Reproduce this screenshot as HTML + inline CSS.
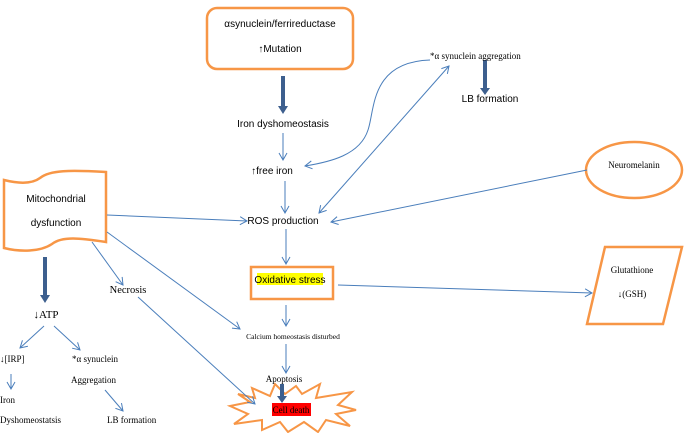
<!DOCTYPE html>
<html><head><meta charset="utf-8"><style>
html,body{margin:0;padding:0;background:#fff;}
svg{display:block}
.s{font-family:"Liberation Sans",sans-serif;font-size:10px;fill:#000}
.r{font-family:"Liberation Serif",serif;font-size:9px;fill:#000}
</style></head><body>
<svg width="685" height="433" viewBox="0 0 685 433" xmlns="http://www.w3.org/2000/svg">
<defs>
<marker id="a" markerWidth="10" markerHeight="10" refX="8" refY="5" orient="auto" markerUnits="userSpaceOnUse"><path d="M1,1 L8,5 L1,9" fill="none" stroke="#4a7ebb" stroke-width="1"/></marker>
<marker id="as" markerWidth="10" markerHeight="10" refX="2" refY="5" orient="auto" markerUnits="userSpaceOnUse"><path d="M9,1 L2,5 L9,9" fill="none" stroke="#4a7ebb" stroke-width="1"/></marker>
<marker id="t" markerWidth="12" markerHeight="10" refX="6" refY="4" orient="auto" markerUnits="userSpaceOnUse"><path d="M0,0 L6,4 L0,8 Z" fill="#3d5f8e" transform="rotate(0)"/></marker>
</defs>
<g fill="none" stroke="#f79646" stroke-width="2.5">
<rect x="207" y="8" width="146" height="61" rx="10"/>
<ellipse cx="634" cy="170" rx="48" ry="28"/>
<path d="M4,180 C20,184 32,184 40,178 C50,170 70,170 106,172 L106,242 C80,238 62,236 52,244 C40,252 20,252 4,248 Z"/>
<rect x="251" y="267" width="82" height="32"/>
<path d="M605,247 L682,247 L663,324 L587,324 Z"/>
<path d="M238,394 L255,398 L252,388 L270,396 L275,384 L285,394 L296,386 L302,394 L320,384 L316,398 L352,392 L338,405 L356,410 L336,414 L350,426 L326,420 L318,432 L304,422 L288,432 L280,422 L262,430 L262,420 L234,424 L248,414 L230,406 L250,402 Z" stroke-width="2"/>
</g>
<rect x="257" y="273" width="66" height="12" fill="#ffff00"/>
<rect x="272" y="403" width="39" height="13" fill="#ff0000"/>
<g stroke="#3d5f8e" stroke-width="4">
<line x1="283" y1="76" x2="283" y2="107"/>
<line x1="485" y1="60" x2="485" y2="88"/>
<line x1="45" y1="257" x2="45" y2="296"/>
<line x1="282" y1="384" x2="282" y2="396"/>
</g>
<g fill="#3d5f8e">
<path d="M278,106 L288,106 L283,114 Z"/>
<path d="M480,88 L490,88 L485,95 Z"/>
<path d="M40,295 L50,295 L45,303 Z"/>
<path d="M277,396 L287,396 L282,403 Z"/>
</g>
<g fill="none" stroke="#4a7ebb" stroke-width="1">
<line x1="283" y1="133" x2="283" y2="160" marker-end="url(#a)"/>
<line x1="285" y1="181" x2="285" y2="213" marker-end="url(#a)"/>
<line x1="286" y1="229" x2="286" y2="264" marker-end="url(#a)"/>
<path d="M430,60 C370,62 375,110 368,130 C360,155 330,162 305,166" marker-end="url(#a)"/>
<line x1="319" y1="213" x2="449" y2="66" marker-start="url(#as)" marker-end="url(#a)"/>
<line x1="587" y1="170" x2="331" y2="222" marker-end="url(#a)"/>
<line x1="107" y1="215" x2="247" y2="221" marker-end="url(#a)"/>
<line x1="107" y1="232" x2="240" y2="329" marker-end="url(#a)"/>
<line x1="92" y1="242" x2="123" y2="285" marker-end="url(#a)"/>
<line x1="138" y1="297" x2="255" y2="404" marker-end="url(#a)"/>
<line x1="338" y1="285" x2="592" y2="293" marker-end="url(#a)"/>
<line x1="286" y1="305" x2="286" y2="326" marker-end="url(#a)"/>
<line x1="286" y1="344" x2="286" y2="373" marker-end="url(#a)"/>
<line x1="44" y1="326" x2="20" y2="348" marker-end="url(#a)"/>
<line x1="54" y1="326" x2="80" y2="350" marker-end="url(#a)"/>
<line x1="11" y1="374" x2="11" y2="389" marker-end="url(#a)"/>
<line x1="105" y1="390" x2="123" y2="411" marker-end="url(#a)"/>
</g>
<text class="s" x="280" y="27" text-anchor="middle">αsynuclein/ferrireductase</text>
<text class="s" x="280" y="52" text-anchor="middle">↑Mutation</text>
<text class="s" x="283" y="127" text-anchor="middle">Iron dyshomeostasis</text>
<text class="s" x="272" y="174" text-anchor="middle">↑free iron</text>
<text class="s" x="283" y="224" text-anchor="middle">ROS production</text>
<text class="r" x="430" y="59">*α synuclein aggregation</text>
<text class="s" x="490" y="102" text-anchor="middle">LB formation</text>
<text class="r" x="634" y="168" text-anchor="middle">Neuromelanin</text>
<text class="s" x="56" y="202" text-anchor="middle">Mitochondrial</text>
<text class="s" x="56" y="226" text-anchor="middle">dysfunction</text>
<text class="r" x="128" y="293" text-anchor="middle" style="font-size:10.5px">Necrosis</text>
<text class="s" x="290" y="283" text-anchor="middle">Oxidative stress</text>
<text class="r" x="632" y="273" text-anchor="middle">Glutathione</text>
<text class="r" x="632" y="297" text-anchor="middle">↓(GSH)</text>
<text class="r" x="293" y="339" text-anchor="middle" style="font-size:7.5px">Calcium homeostasis disturbed</text>
<text class="r" x="284" y="382" text-anchor="middle">Apoptosis</text>
<text class="r" x="291" y="413" text-anchor="middle">Cell death</text>
<text class="r" x="46" y="318" text-anchor="middle" style="font-size:11px">↓ATP</text>
<text class="r" x="0" y="362">↓[IRP]</text>
<text class="r" x="0" y="403">Iron</text>
<text class="r" x="0" y="423">Dyshomeostatsis</text>
<text class="r" x="72" y="362">*α synuclein</text>
<text class="r" x="71" y="383">Aggregation</text>
<text class="r" x="107" y="423">LB formation</text>
</svg>
</body></html>
